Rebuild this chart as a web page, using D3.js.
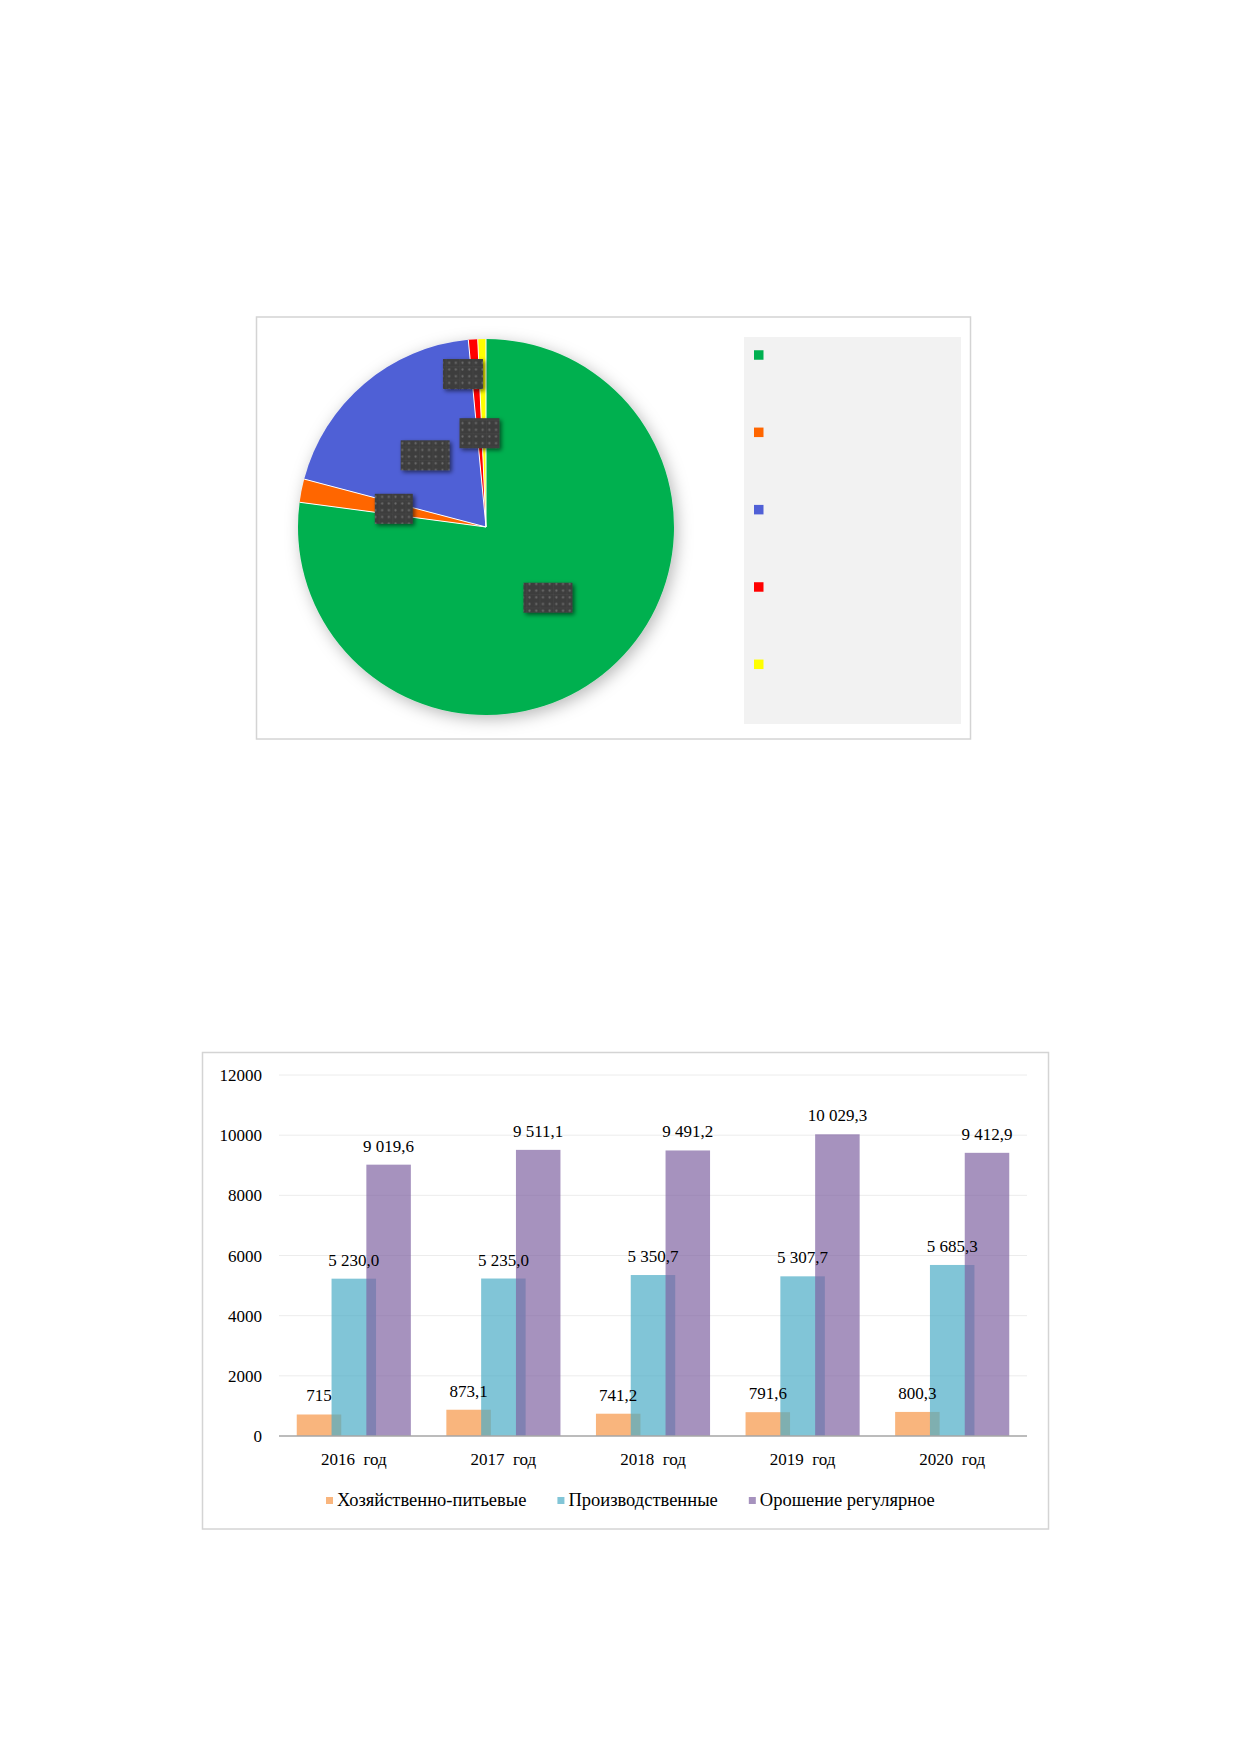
<!DOCTYPE html>
<html>
<head>
<meta charset="utf-8">
<script src="https://cdn.jsdelivr.net/npm/d3@7"></script>
<style>
body { margin: 0; background: #fff; }
text { font-family: "Liberation Serif", "Times New Roman", serif; }
</style>
</head>
<body>
<script>
// pie: shares, %
var pieShares = [77.1, 2.0, 19.4, 0.8, 0.7];
var pieColors = ["#00b050", "#ff6600", "#5060d6", "#ff0000", "#ffff00"];

// bar chart
var years = ["2016", "2017", "2018", "2019", "2020"];
var categories = years.map(function (y) { return y + "  год"; });
var seriesNames = ["Хозяйственно-питьевые", "Производственные", "Орошение регулярное"];
var drinking = [715, 873.1, 741.2, 791.6, 800.3];
var industrial = [5230.0, 5235.0, 5350.7, 5307.7, 5685.3];
var irrigation = [9019.6, 9511.1, 9491.2, 10029.3, 9412.9];
var drinkingDigits = [0, 1, 1, 1, 1];
var yTicks = [0, 2000, 4000, 6000, 8000, 10000, 12000];
var barColors = ["#f79646", "#4bacc6", "#8064a2"];

var W = 1240, H = 1754;
var svg = d3.select("body").append("svg")
            .attr("width", W)
            .attr("height", H);

var defs = svg.append("defs");

var pieShadow = defs.append("filter").attr("id", "pieShadow")
    .attr("x", "-20%").attr("y", "-20%").attr("width", "140%").attr("height", "140%");
pieShadow.append("feDropShadow")
    .attr("dx", 3).attr("dy", 4).attr("stdDeviation", 8)
    .attr("flood-color", "#000").attr("flood-opacity", 0.28);

var boxShadow = defs.append("filter").attr("id", "boxShadow")
    .attr("x", "-30%").attr("y", "-30%").attr("width", "160%").attr("height", "160%");
boxShadow.append("feDropShadow")
    .attr("dx", 2).attr("dy", 2).attr("stdDeviation", 2)
    .attr("flood-color", "#000").attr("flood-opacity", 0.55);

var dots = defs.append("pattern").attr("id", "dots")
    .attr("patternUnits", "userSpaceOnUse")
    .attr("width", 13.4).attr("height", 13.4);
dots.append("rect").attr("width", 13.4).attr("height", 13.4).attr("fill", "#3e3e3e");
dots.append("path").attr("d", "M0,0H13.4M0,0V13.4")
    .attr("stroke", "#484848").attr("stroke-width", 1);
[[3.35, 3.35], [10.05, 3.35], [3.35, 10.05], [10.05, 10.05]].forEach(function (p) {
  dots.append("circle").attr("cx", p[0]).attr("cy", p[1]).attr("r", 1.1)
      .attr("fill", "#6c6c6c");
});

// ---------- Pie chart ----------
svg.append("rect")
   .attr("x", 256.5).attr("y", 317)
   .attr("width", 714).attr("height", 422)
   .attr("fill", "#fff")
   .attr("stroke", "#d4d4d4").attr("stroke-width", 1.5);

var pieR = 188;
var pieG = svg.append("g").attr("transform", "translate(486,527)");

var pie = d3.pie().sort(null).value(function (d) { return d; });
var arc = d3.arc().innerRadius(0).outerRadius(pieR);
var arcs = pie(pieShares);

var slices = pieG.append("g").attr("filter", "url(#pieShadow)");
slices.selectAll("path")
    .data(arcs)
    .enter().append("path")
    .attr("d", arc)
    .attr("fill", function (d, i) { return pieColors[i]; });
// thin white separators between slices
pieG.append("g").selectAll("line")
    .data(arcs)
    .enter().append("line")
    .attr("x1", 0).attr("y1", 0)
    .attr("x2", function (d) { return pieR * Math.sin(d.startAngle); })
    .attr("y2", function (d) { return -pieR * Math.cos(d.startAngle); })
    .attr("stroke", "#fff").attr("stroke-width", 1);

// data labels (rendered as dark blocks)
var labelW = [49, 38, 49, 40, 40];
var labelNudge = [[0, 0], [0, 0], [0, 0], [0, 0], [-21, -59]];
pieG.selectAll("rect.lbl")
    .data(arcs)
    .enter().append("rect")
    .attr("class", "lbl")
    .attr("x", function (d, i) { return arc.centroid(d)[0] + labelNudge[i][0] - labelW[i] / 2; })
    .attr("y", function (d, i) { return arc.centroid(d)[1] + labelNudge[i][1] - 15; })
    .attr("width", function (d, i) { return labelW[i]; })
    .attr("height", 30)
    .attr("fill", "url(#dots)")
    .attr("filter", "url(#boxShadow)");

// legend panel
svg.append("rect")
   .attr("x", 744).attr("y", 337)
   .attr("width", 217).attr("height", 387)
   .attr("fill", "#f2f2f2");

var legY = d3.scaleLinear().domain([0, 4]).range([355, 664.3]);
svg.selectAll("rect.pieleg")
   .data(pieColors)
   .enter().append("rect")
   .attr("class", "pieleg")
   .attr("x", 754)
   .attr("y", function (d, i) { return legY(i) - 4.75; })
   .attr("width", 9.5).attr("height", 9.5)
   .attr("fill", function (d) { return d; });

// ---------- Bar chart ----------
svg.append("rect")
   .attr("x", 202.5).attr("y", 1052.5)
   .attr("width", 846).attr("height", 476.5)
   .attr("fill", "#fff")
   .attr("stroke", "#d4d4d4").attr("stroke-width", 1.5);

var x = d3.scaleBand().domain(categories).range([279, 1027]);
var y = d3.scaleLinear().domain([0, 12000]).range([1436, 1075]);

var barW = 44.5, barStep = 34.8;
var groupOff = (x.bandwidth() - (2 * barStep + barW)) / 2;
function barX(i, s) { return x(categories[i]) + groupOff + s * barStep; }

// gridlines
svg.append("g").selectAll("line")
   .data(yTicks.filter(function (t) { return t > 0; }))
   .enter().append("line")
   .attr("x1", 279).attr("x2", 1027)
   .attr("y1", function (d) { return y(d); })
   .attr("y2", function (d) { return y(d); })
   .attr("stroke", "#ececec").attr("stroke-width", 1);

// y tick labels
svg.append("g").selectAll("text")
   .data(yTicks)
   .enter().append("text")
   .attr("x", 262)
   .attr("y", function (d) { return y(d) + 6; })
   .attr("text-anchor", "end")
   .attr("font-size", 17)
   .attr("fill", "#000")
   .text(function (d) { return d; });

var ru = d3.formatLocale({ decimal: ",", thousands: " ", grouping: [3], currency: ["", ""] });
function fmt(v, digits) { return ru.format(",." + digits + "f")(v); }

var series = [drinking, industrial, irrigation];
series.forEach(function (vals, s) {
  svg.append("g").selectAll("rect")
   .data(vals)
   .enter().append("rect")
   .attr("x", function (d, i) { return barX(i, s); })
   .attr("y", function (d) { return y(d); })
   .attr("width", barW)
   .attr("height", function (d) { return y(0) - y(d); })
   .attr("fill", barColors[s])
   .attr("fill-opacity", 0.7);
});

// zero axis
svg.append("line")
   .attr("x1", 279).attr("x2", 1027)
   .attr("y1", y(0)).attr("y2", y(0))
   .attr("stroke", "#a6a6a6").attr("stroke-width", 1.5);

// value labels on top of all bars
series.forEach(function (vals, s) {
  svg.append("g").selectAll("text")
   .data(vals)
   .enter().append("text")
   .attr("x", function (d, i) { return barX(i, s) + barW / 2; })
   .attr("y", function (d) { return y(d) - 13; })
   .attr("text-anchor", "middle")
   .attr("font-size", 17)
   .attr("fill", "#000")
   .text(function (d, i) { return fmt(d, s === 0 ? drinkingDigits[i] : 1); });
});

// category labels
svg.append("g").selectAll("text")
   .data(categories)
   .enter().append("text")
   .attr("x", function (d) { return x(d) + x.bandwidth() / 2; })
   .attr("y", 1465)
   .attr("text-anchor", "middle")
   .attr("font-size", 17)
   .attr("fill", "#000")
   .style("white-space", "pre")
   .text(function (d) { return d; });

// legend
var lx = 326;
seriesNames.forEach(function (name, s) {
  svg.append("rect")
     .attr("x", lx).attr("y", 1497)
     .attr("width", 7).attr("height", 7)
     .attr("fill", barColors[s]).attr("fill-opacity", 0.7);
  var t = svg.append("text")
     .attr("x", lx + 11).attr("y", 1506)
     .attr("font-size", 18.5)
     .attr("fill", "#000")
     .text(name);
  lx = lx + 11 + t.node().getComputedTextLength() + 31;
});
</script>
</body>
</html>
